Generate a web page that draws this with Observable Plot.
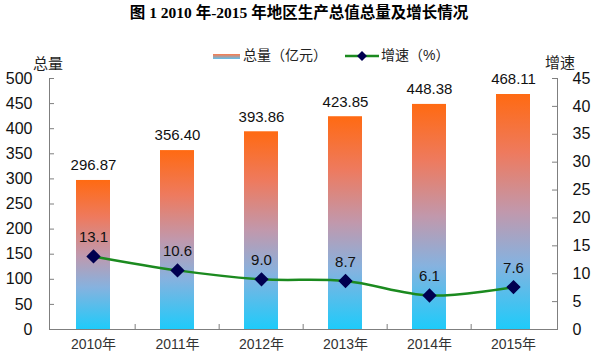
<!DOCTYPE html>
<html><head><meta charset="utf-8">
<script src="https://cdn.jsdelivr.net/npm/d3@7"></script>
<script src="https://cdn.jsdelivr.net/npm/@observablehq/plot@0.6"></script>
<style>
body{margin:0;background:#fff;}
#wrap{position:relative;width:598px;height:360px;font-family:"Liberation Sans","Noto Sans CJK SC",sans-serif;color:#111;}
.abs{position:absolute;white-space:nowrap;line-height:1;}
</style></head><body><div id="wrap"></div>
<script>
const years = ["2010年","2011年","2012年","2013年","2014年","2015年"];
const totals = [296.87, 356.40, 393.86, 423.85, 448.38, 468.11];
const growth = [13.1, 10.6, 9.0, 8.7, 6.1, 7.6];
const leftTicks = [0,50,100,150,200,250,300,350,400,450,500];
const rightTicks = [0,5,10,15,20,25,30,35,40,45];

const data = years.map((year, i) => ({year, total: totals[i], growth: growth[i]}));
const W = 598, H = 360, mT = 78, mB = 31, mL = 49, mR = 41;
const fw = W - mL - mR, fh = H - mT - mB;
const step = fw / years.length;
const g2y = g => g * 500 / 45;
const axisColor = "#7f7f7f";

const defsMark = () => {
  const defs = d3.create("svg:defs");
  const lg = defs.append("linearGradient").attr("id", "barGrad")
    .attr("x1", 0).attr("y1", 0).attr("x2", 0).attr("y2", 1);
  [[0, "#ff6a12"], [0.25, "#ee7a5e"], [0.5, "#c198ac"], [0.72, "#86b2df"], [1, "#1ecbfa"]]
    .forEach(([o, c]) => lg.append("stop").attr("offset", o).attr("stop-color", c));
  return defs.node();
};

const chart = Plot.plot({
  width: W, height: H, marginTop: mT, marginBottom: mB, marginLeft: mL, marginRight: mR,
  style: {fontFamily: '"Liberation Sans","Noto Sans CJK SC",sans-serif', background: "white", overflow: "visible"},
  x: {domain: years, paddingInner: 0.6, paddingOuter: 0.3, axis: null},
  y: {domain: [0, 500], axis: null},
  marks: [
    defsMark,
    Plot.barY(data, {x: "year", y: "total", fill: "url(#barGrad)"}),
    Plot.ruleY([0], {stroke: axisColor}),
    Plot.frame({anchor: "left", stroke: axisColor}),
    Plot.frame({anchor: "right", stroke: axisColor}),
    Plot.ruleY(leftTicks, {y: d => d, insetRight: fw - 5, stroke: axisColor}),
    Plot.ruleY(rightTicks, {y: d => g2y(d), insetLeft: fw - 5, stroke: axisColor}),
    Plot.ruleX(years.slice(1), {x: d => d, dx: -step / 2, insetTop: fh - 5, stroke: axisColor}),
    Plot.text(leftTicks, {y: d => d, frameAnchor: "left", dx: -17, textAnchor: "end", text: d => String(d), fontSize: 16, fill: "#111"}),
    Plot.text(rightTicks, {y: d => g2y(d), frameAnchor: "right", dx: 15, textAnchor: "start", text: d => String(d), fontSize: 16, fill: "#111"}),
    Plot.text(years, {x: d => d, frameAnchor: "bottom", dy: 19, text: d => d, fontSize: 14, fill: "#333"}),
    Plot.text(data, {x: "year", y: "total", text: d => d.total.toFixed(2), dy: -15, fontSize: 15, fill: "#111"}),
    Plot.line(data, {x: "year", y: d => g2y(d.growth), stroke: "#1b8a1f", strokeWidth: 2.5, curve: "catmull-rom"}),
    Plot.dot(data, {x: "year", y: d => g2y(d.growth), symbol: "diamond2", r: 5.5, fill: "#000050", stroke: "#000050"}),
    Plot.text(data, {x: "year", y: d => g2y(d.growth), text: d => d.growth.toFixed(1), dy: -19, fontSize: 15, fill: "#111"})
  ]
});

const wrap = document.getElementById("wrap");
wrap.appendChild(chart);
chart.style.position = "absolute"; chart.style.left = "0"; chart.style.top = "0";

function add(html, css) {
  const d = document.createElement("div");
  d.className = "abs"; d.innerHTML = html; Object.assign(d.style, css);
  wrap.appendChild(d); return d;
}
add('图 1 2010 年-2015 年地区生产总值总量及增长情况', {left: "0", width: W + "px", top: "5px", textAlign: "center",
  fontFamily: '"Liberation Serif","Noto Sans CJK SC",serif', fontWeight: "bold", fontSize: "15.5px", color: "#000"});
add('<span style="display:inline-block;width:27px;height:5px;background:linear-gradient(#ff7a4a,#5cc0f0);vertical-align:middle;margin-right:3px"></span>总量（亿元）', {left: "213px", top: "48px", fontSize: "14px", color: "#222"});
add('<svg width="34" height="12" style="vertical-align:middle;margin-right:2px"><line x1="0" y1="6" x2="34" y2="6" stroke="#1b8a1f" stroke-width="2.5"/><path d="M17,1 L22,6 L17,11 L12,6 Z" fill="#000050"/></svg>增速（%）', {left: "345px", top: "48px", fontSize: "14px", color: "#222"});
add('总量', {left: "33px", top: "56px", fontSize: "15px", color: "#222"});
add('增速', {left: "545px", top: "55px", fontSize: "15px", color: "#222"});
</script></body></html>
